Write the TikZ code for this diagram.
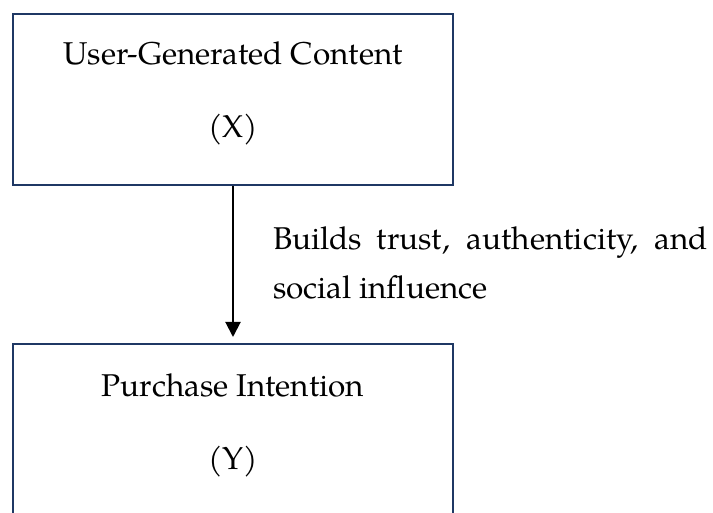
\documentclass[tikz,border=0pt]{standalone}
\usepackage{fontspec}
\setmainfont{TeX Gyre Pagella}
\usetikzlibrary{arrows.meta}
\definecolor{boxnavy}{RGB}{31,56,100}
\tikzset{
  varbox/.style={draw=boxnavy, line width=2pt, minimum width=440pt, minimum height=171pt, inner sep=0pt},
  boxtext/.style={anchor=base, inner sep=0pt, font=\fontsize{31.5}{36}\selectfont},
  linktext/.style={anchor=base west, inner sep=0pt, font=\fontsize{31.5}{36}\selectfont},
  linkarrow/.style={draw=black, line width=2pt, -{Triangle[width=15pt,length=15pt]}, shorten >=6pt}
}
\begin{document}
\begin{tikzpicture}[x=1pt, y=-1pt]
  \useasboundingbox (0,0) rectangle (713,513);
  \clip (0,0) rectangle (713,513);
  % independent variable
  \node[varbox] (x) at (233,99.5) {};
  \node[boxtext] (xname) at (233,65) {User-Generated Content};
  \node[boxtext] (xsym) at (233,138) {(X)};
  % dependent variable (box runs past the lower edge)
  \node[varbox] (y) at (233,429.5) {};
  \node[boxtext] (yname) at (233,396) {Purchase Intention};
  \node[boxtext] (ysym) at (233,469) {(Y)};
  % effect path
  \draw[linkarrow] (x.south) -- (y.north);
  \node[linktext] (why1) at (273,250) {\makebox[435pt][s]{Builds trust, authenticity, and}};
  \node[linktext] (why2) at (273,299) {social influence};
\end{tikzpicture}
\end{document}
